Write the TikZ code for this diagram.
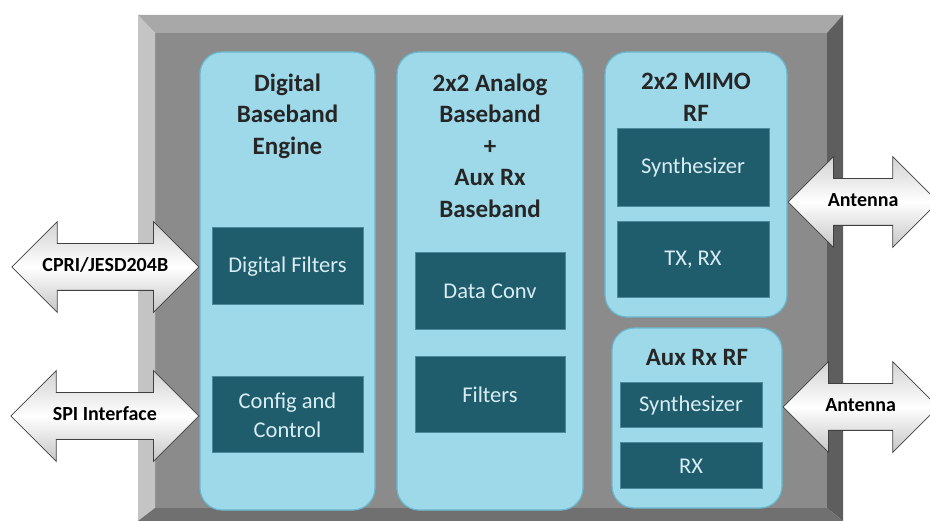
\documentclass[tikz,border=0pt]{standalone}
\usepackage{fontspec}
\setmainfont{Carlito}
\usetikzlibrary{shapes.arrows}
\definecolor{chipface}{HTML}{8B8B8B}
\definecolor{bevtop}{HTML}{A8A8A8}
\definecolor{bevleft}{HTML}{C4C4C4}
\definecolor{bevright}{HTML}{5E5E5E}
\definecolor{bevbot}{HTML}{707070}
\definecolor{panelfill}{HTML}{9ED9EA}
\definecolor{panelline}{HTML}{6AB8CE}
\definecolor{blkfill}{HTML}{205D6C}
\definecolor{blkline}{HTML}{4A8A9C}
\definecolor{blktext}{HTML}{D8EDF3}
\tikzset{
  panel/.style={draw=panelline,fill=panelfill,line width=1.2pt,rounded corners=22pt},
  title/.style={anchor=north,yshift=-22pt,align=center,inner sep=0pt,text=black!85,
    font=\bfseries\fontsize{25}{31.5}\selectfont},
  blk/.style={draw=blkline,fill=blkfill,line width=1pt,text=blktext,align=center,
    font=\fontsize{22.5}{29}\selectfont},
  io/.style={double arrow,double arrow head extend=22pt,draw=black!75,line width=0.8pt,
    top color=gray!35,bottom color=gray!45,middle color=white,text=black,
    font=\bfseries\fontsize{20}{22}\selectfont,text height=13pt,text depth=4pt,
    inner ysep=14.5pt,inner xsep=0pt}
}
\begin{document}
\begin{tikzpicture}[x=1pt,y=-1pt]
  \useasboundingbox (0,0) rectangle (930,521);
  % chip body
  \fill[chipface] (155,33) rectangle (827,508);
  \fill[bevtop] (138,15) -- (843,15) -- (827,33) -- (155,33) -- cycle;
  \fill[bevleft] (138,15) -- (155,33) -- (155,508) -- (138,521) -- cycle;
  \fill[bevright] (843,15) -- (843,521) -- (827,508) -- (827,33) -- cycle;
  \fill[bevbot] (138,521) -- (155,508) -- (827,508) -- (843,521) -- cycle;
  % panels
  \node[panel,minimum width=175pt,minimum height=458pt] (dbe) at (287.5,281) {};
  \node[panel,minimum width=186pt,minimum height=458pt] (abb) at (490,281) {};
  \node[panel,minimum width=182pt,minimum height=265pt] (mimo) at (696,184.5) {};
  \node[panel,minimum width=170pt,minimum height=180pt] (aux) at (697,418) {};
  \node[title] (dbeT) at (dbe.north) {Digital\\Baseband\\Engine};
  \node[title] (abbT) at (abb.north) {2x2 Analog\\Baseband\\+\\Aux Rx\\Baseband};
  \node[title] (mimoT) at (mimo.north) {2x2 MIMO\\RF};
  \node[title] (auxT) at (aux.north) {Aux Rx RF};
  % blocks
  \node[blk,minimum width=151pt,minimum height=77pt] (filt) at (287.5,266.5) {Digital Filters};
  \node[blk,minimum width=151pt,minimum height=76pt] (cfg) at (287.5,415) {Config and\\Control};
  \node[blk,minimum width=150pt,minimum height=77pt] (conv) at (490,291.5) {Data Conv};
  \node[blk,minimum width=150pt,minimum height=76pt] (afilt) at (490,395) {Filters};
  \node[blk,minimum width=152pt,minimum height=78pt] (syn) at (693,168) {Synthesizer};
  \node[blk,minimum width=152pt,minimum height=76pt] (trx) at (693,260) {TX, RX};
  \node[blk,minimum width=142pt,minimum height=45pt] (asyn) at (691,405.5) {Synthesizer};
  \node[blk,minimum width=142pt,minimum height=46pt] (arx) at (691,466) {RX};
  % interfaces
  \node[io,minimum height=187pt,anchor=east] (cpri) at (dbe.west |- 0,267) {CPRI/JESD204B};
  \node[io,minimum height=188pt,anchor=east] (spi) at (dbe.west |- 0,416) {SPI Interface};
  \node[io,minimum height=150pt,anchor=west] (ant1) at (mimo.east |- 0,202) {Antenna};
  \node[io,minimum height=155pt,anchor=west] (ant2) at (aux.east |- 0,407) {Antenna};
\end{tikzpicture}
\end{document}
